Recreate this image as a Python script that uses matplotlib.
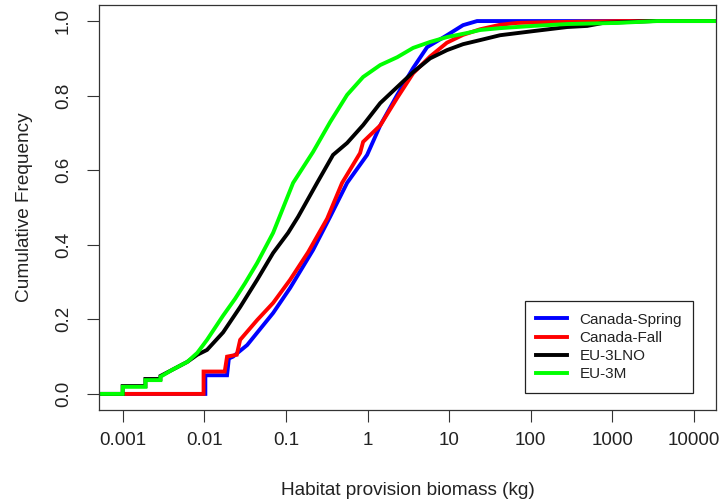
import matplotlib
matplotlib.use("Agg")
import matplotlib.pyplot as plt

plt.rcParams['font.family'] = ['Liberation Sans', 'DejaVu Sans']

# values (x in kg, cumulative frequency)
spring_x = [0.0103, 0.0103, 0.019, 0.02, 0.0225, 0.0335, 0.0697, 0.1125, 0.215, 0.348,
            0.562, 0.988, 1.43, 2.31, 3.62, 5.37, 9.4, 14.8, 22]
spring_f = [0, 0.05, 0.05, 0.095, 0.10, 0.131, 0.217, 0.284, 0.386, 0.475,
            0.566, 0.641, 0.72, 0.802, 0.874, 0.93, 0.962, 0.989, 1.0]

fall_x = [0.0098, 0.0098, 0.0178, 0.019, 0.025, 0.0275, 0.0444, 0.0697, 0.1125, 0.187,
          0.32, 0.488, 0.811, 0.883, 1.43, 2.31, 3.62, 5.85, 9.4, 14.8,
          24, 42, 68, 173, 1247]
fall_f = [0, 0.06, 0.06, 0.10, 0.105, 0.145, 0.198, 0.244, 0.306, 0.38,
          0.47, 0.566, 0.646, 0.676, 0.72, 0.794, 0.86, 0.905, 0.942, 0.963,
          0.978, 0.99, 0.995, 0.997, 1.0]

lno_x = [0.001, 0.001, 0.0019, 0.0019, 0.0029, 0.0029, 0.004, 0.0062, 0.0082, 0.0108,
         0.017, 0.0275, 0.0444, 0.0697, 0.1064, 0.141, 0.241, 0.378, 0.562, 0.883,
         1.43, 2.31, 3.62, 5.85, 9.4, 14.8, 24, 42, 107, 279,
         491, 771, 3160]
lno_f = [0, 0.021, 0.021, 0.04, 0.04, 0.048, 0.064, 0.086, 0.105, 0.118,
         0.165, 0.233, 0.306, 0.378, 0.432, 0.475, 0.566, 0.641, 0.673, 0.721,
         0.78, 0.823, 0.863, 0.9, 0.922, 0.938, 0.949, 0.962, 0.973, 0.984,
         0.987, 0.995, 1.0]

m_x = [0.001, 0.001, 0.0019, 0.0019, 0.0029, 0.0029, 0.004, 0.0062, 0.0082, 0.0108,
       0.017, 0.0238, 0.0316, 0.0444, 0.0697, 0.1225, 0.215, 0.348, 0.562, 0.883,
       1.43, 2.31, 3.62, 5.85, 9.4, 16.6, 24, 42, 107, 279,
       1145, 3500]
m_f = [0, 0.019, 0.019, 0.037, 0.037, 0.046, 0.064, 0.086, 0.11, 0.145,
       0.21, 0.255, 0.297, 0.351, 0.432, 0.566, 0.649, 0.729, 0.802, 0.85,
       0.882, 0.903, 0.928, 0.944, 0.957, 0.968, 0.976, 0.981, 0.987, 0.992,
       0.995, 1.0]

series = [('Canada-Spring', spring_x, spring_f, '#0000FF'),
          ('Canada-Fall', fall_x, fall_f, '#FF0000'),
          ('EU-3LNO', lno_x, lno_f, '#000000'),
          ('EU-3M', m_x, m_f, '#00FF00')]

tick_vals = [0.001, 0.01, 0.1, 1, 10, 100, 1000, 10000]
tick_labels = ['0.001', '0.01', '0.1', '1', '10', '100', '1000', '10000']
y_ticks = [0.0, 0.2, 0.4, 0.6, 0.8, 1.0]

xlim = (10 ** -3.29, 10 ** 4.27)

fig = plt.figure(figsize=(7.2, 5.03), dpi=100)
ax = fig.add_axes([0.1375, 0.185, 0.857, 0.805])

for name, xs, fs, col in series:
    # extend to the plot edges like R's plot.ecdf
    xx = [xlim[0]] + xs + [xlim[1]]
    ff = [0] + fs + [1.0]
    ax.plot(xx, ff, color=col, lw=2.8, label=name, solid_joinstyle='miter')

ax.set_xscale('log')
ax.set_xlim(*xlim)
ax.set_ylim(-0.043, 1.043)
ax.set_xticks(tick_vals)
ax.set_xticklabels(tick_labels)
ax.minorticks_off()
ax.set_yticks(y_ticks)
ax.set_yticklabels(['%.1f' % v for v in y_ticks], rotation=90, va='center')
ax.tick_params(axis='both', length=8.6, width=0.8, color='#333333', labelsize=13.5,
               labelcolor='#222222')
ax.tick_params(axis='x', pad=7)
ax.tick_params(axis='y', pad=11)
for s in ax.spines.values():
    s.set_color('#333333')
    s.set_linewidth(0.9)

ax.set_xlabel('Habitat provision biomass (kg)', fontsize=13.7, color='#222222', labelpad=24)
ax.set_ylabel('Cumulative Frequency', fontsize=13.7, color='#222222', labelpad=16)

leg = ax.legend(loc='lower right', bbox_to_anchor=(0.963, 0.042), borderaxespad=0,
                fontsize=11, handlelength=2.0, handletextpad=0.8, labelspacing=0.28,
                borderpad=0.75, fancybox=False, framealpha=1)
leg.get_frame().set_edgecolor('#222222')
leg.get_frame().set_linewidth(0.9)
for t in leg.get_texts():
    t.set_color('#222222')

fig.savefig('out.png', dpi=100)
